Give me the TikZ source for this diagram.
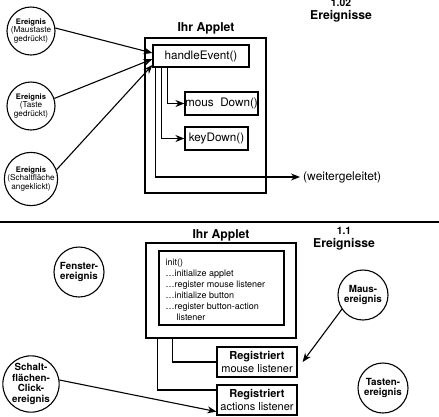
\documentclass[tikz,border=0pt]{standalone}
\usepackage{fontspec}
\setmainfont{TeX Gyre Heros}
\usetikzlibrary{arrows.meta,calc,positioning}

\begin{document}
\begin{tikzpicture}[x=1pt, y=-1pt,
    evt/.style={circle, draw, line width=1.1pt, minimum size=48pt, inner sep=0pt, align=center, font=\fontsize{8.2}{8.6}\selectfont},
    bevt/.style={evt, minimum size=50pt, font=\bfseries\fontsize{9.8}{10.8}\selectfont},
    frame/.style={draw, line width=1.2pt, inner sep=0pt},
    meth/.style={draw, line width=1.2pt, inner sep=0pt, font=\fontsize{11.7}{12}\selectfont},
    reg/.style={draw, line width=1.2pt, inner sep=0pt, minimum width=80pt, minimum height=30pt, align=center, font=\fontsize{11}{12.5}\selectfont},
    flow/.style={line width=1.1pt, -{Stealth[length=9pt,width=7pt]}},
    wire/.style={line width=1.1pt},
    ttl/.style={font=\bfseries\fontsize{12.2}{13}\selectfont, align=center}
  ]
  \useasboundingbox (0,0) rectangle (439,416);

  % upper half: events sent to handleEvent()
  \node[ttl] (ttlA) at (206,28) {Ihr Applet};
  \node[ttl] (verA) at (341,11) {{\fontsize{10.3}{11}\selectfont 1.02}\\Ereignisse};
  \node[frame, minimum width=121pt, minimum height=155pt] (appA) at (205.5,115.5) {};
  \node[meth, minimum width=96pt, minimum height=22pt] (he) at (201,56) {handleEvent()};
  \node[meth, minimum width=73pt, minimum height=23pt] (md) at (221.5,103.5) {mous~ Down()};
  \node[meth, minimum width=63pt, minimum height=23pt] (kd) at (216.5,138.5) {keyDown()};
  \node[anchor=west, inner sep=3pt, font=\fontsize{12}{13}\selectfont] (fw) at (300,177) {(weitergeleitet)};

  \node[evt] (e1) at (31,31) {{\bfseries\fontsize{7.6}{8.6}\selectfont Ereignis}\\(Maustaste\\gedrückt)};
  \node[evt] (e2) at (31,106) {{\bfseries\fontsize{7.6}{8.6}\selectfont Ereignis}\\(Taste\\gedrückt)};
  \node[evt] (e3) at (31,179) {{\bfseries\fontsize{7.6}{8.6}\selectfont Ereignis}\\(Schaltfläche\\angeklickt)};

  \draw[flow] (e1.7) -- ($(he.west)+(0,-3)$);
  \draw[flow] (e2.18) -- ($(he.west)+(0,3)$);
  \draw[flow] (e3.20) -- ($(he.west)+(0,9)$);

  \draw[flow] ($(he.south west)+(15,0)$) |- (md.west);
  \draw[flow] ($(he.south west)+(9,0)$) |- (kd.west);
  \draw[flow] ($(he.south west)+(3,0)$) |- (fw.west);

  \draw[wire] (0,222) -- (439,222);

  % lower half: registered listeners
  \node[ttl] (ttlB) at (221,235) {Ihr Applet};
  \node[ttl] (verB) at (344,239) {{\fontsize{10.3}{11}\selectfont 1.1}\\Ereignisse};
  \node[frame, minimum width=150pt, minimum height=95pt] (appB) at (221,290.5) {};
  \node[frame, minimum width=125pt, minimum height=74pt] (init) at (221.5,288) {};
  \node[anchor=north west, inner sep=0pt, font=\fontsize{9}{11}\selectfont] (initTxt) at ($(init.north west)+(7,7)$) {%
    \begin{tabular}{@{}l@{}}
      init()\\ …initialize applet\\ …register mouse listener\\ …initialize button\\ …register button-action\\ \hspace*{11pt}listener
    \end{tabular}};

  \node[reg] (ml) at (257,362) {\textbf{Registriert}\\mouse listener};
  \node[reg] (al) at (257,400) {\textbf{Registriert}\\actions listener};

  \draw[wire] ($(appB.south west)+(27,0)$) |- (ml.west);
  \draw[wire] ($(appB.south west)+(12,0)$) |- ($(al.west)+(0,-10)$);

  \node[bevt] (fe) at (79,272) {Fenster-\\ereignis};
  \node[bevt, minimum size=52pt] (se) at (31,384) {Schalt-\\flächen-\\Click-\\ereignis};
  \node[bevt] (me) at (363,295) {Maus-\\ereignis};
  \node[bevt] (te) at (383,388) {Tasten-\\ereignis};

  \draw[flow] (se.8) -- ($(al.south west)+(0,-4)$);
  \draw[flow] (me.214) -- ($(ml.east)+(5,0)$);
\end{tikzpicture}
\end{document}
